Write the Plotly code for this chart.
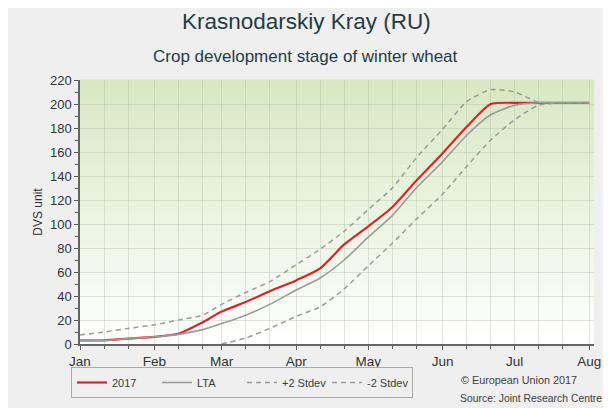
import plotly.graph_objects as go

# Dekadal dates (1st, 11th, 21st of each month), 2017
dates = ["2017-01-01", "2017-01-11", "2017-01-21",
         "2017-02-01", "2017-02-11", "2017-02-21",
         "2017-03-01", "2017-03-11", "2017-03-21",
         "2017-04-01", "2017-04-11", "2017-04-21",
         "2017-05-01", "2017-05-11", "2017-05-21",
         "2017-06-01", "2017-06-11", "2017-06-21",
         "2017-07-01", "2017-07-11", "2017-07-21",
         "2017-08-01"]

dvs_2017 = [3, 3, 4.5, 6, 8.5, 18, 27, 35, 44, 53, 63, 83, 98, 114, 136, 159, 181, 200, 201, 201, 201, 201]
dvs_lta = [3, 3, 4.5, 6, 8, 12, 17, 24, 33, 45, 55, 70, 89, 107, 130, 152, 174, 191, 199, 201, 201, 201]
dvs_plus2 = [7.5, 10, 13, 16, 20, 24, 33, 43, 52, 66, 79, 94, 112, 130, 155, 179, 202, 212, 210, 201.5, 201, 201]
dvs_minus2 = [None, None, None, None, None, None, 0, 5, 13, 23, 31, 46, 65, 84, 104, 125, 148, 170, 187, 199, 201, 201]

month_ticks = ["2017-01-01", "2017-02-01", "2017-03-01", "2017-04-01",
               "2017-05-01", "2017-06-01", "2017-07-01", "2017-08-01"]
month_labels = ["Jan", "Feb", "Mar", "Apr", "May", "Jun", "Jul", "Aug"]
y_ticks = list(range(0, 221, 20))

FONT = "Liberation Sans, Arial, sans-serif"
GRAY = "rgb(155,155,155)"
DASH = "5px,4px"

fig = go.Figure()
fig.add_trace(go.Scatter(x=dates, y=dvs_2017, name="2017", mode="lines",
                         line=dict(color="rgb(222,35,40)", width=2.2, shape="spline", smoothing=0.6)))
fig.add_trace(go.Scatter(x=dates, y=dvs_lta, name="LTA", mode="lines",
                         line=dict(color=GRAY, width=1.6, shape="spline", smoothing=0.6)))
fig.add_trace(go.Scatter(x=dates, y=dvs_plus2, name="+2 Stdev", mode="lines",
                         line=dict(color=GRAY, width=1.5, dash=DASH, shape="spline", smoothing=0.6)))
fig.add_trace(go.Scatter(x=dates, y=dvs_minus2, name="-2 Stdev", mode="lines",
                         line=dict(color=GRAY, width=1.5, dash=DASH, shape="spline", smoothing=0.6)))

# gradient background (green at top fading to white at bottom)
shapes = []
n = 40
top = (214, 232, 194)
bot = (255, 255, 255)
for i in range(n):
    f0 = i / n
    f1 = (i + 1) / n
    t = (f0 + f1) / 2
    c = tuple(int(round(bot[k] + (top[k] - bot[k]) * t)) for k in range(3))
    shapes.append(dict(type="rect", xref="x domain", yref="y domain",
                       x0=0, x1=1, y0=f0, y1=f1 + 0.002, line=dict(width=0),
                       fillcolor="rgb(%d,%d,%d)" % c, layer="below"))

minor_x = [d for d in dates if not d.endswith("-01")]

# page body has an 8px margin: figure coords = screen coords - 8
OFF = 8
W, H = 611 - OFF, 408 - OFF
L, T = 80 - OFF, 80 - OFF
PW, PH = 514, 264
R, B = W - L - PW, H - T - PH


def px(xs):
    return (xs - OFF - L) / PW


def py(ys):
    return (T + PH - (ys - OFF)) / PH


fig.update_layout(
    width=W, height=H,
    paper_bgcolor="rgb(239,239,239)",
    plot_bgcolor="white",
    margin=dict(l=L, r=R, t=T, b=B, autoexpand=False),
    font=dict(family=FONT, color="rgb(50,50,50)"),
    shapes=shapes,
    showlegend=True,
    legend=dict(orientation="h", x=px(71), xanchor="left", y=py(367), yanchor="top",
                bgcolor="rgb(239,239,239)", bordercolor="rgb(170,170,170)", borderwidth=1,
                font=dict(size=11, family=FONT, color="rgb(60,60,60)"),
                itemwidth=30, entrywidth=40, entrywidthmode="pixels",
                tracegroupgap=0),
    annotations=[
        dict(text="Krasnodarskiy Kray (RU)", xref="paper", yref="paper",
             x=px(306), y=py(21), xanchor="center", yanchor="middle",
             showarrow=False, font=dict(size=22.5, family=FONT, color="rgb(30,60,70)")),
        dict(text="Crop development stage of winter wheat", xref="paper", yref="paper",
             x=px(305), y=py(57), xanchor="center", yanchor="middle",
             showarrow=False, font=dict(size=17, family=FONT, color="rgb(30,60,70)")),
        dict(text="© European Union 2017", xref="paper", yref="paper",
             x=px(459), y=py(380), xanchor="left", yanchor="middle",
             showarrow=False, font=dict(size=10.8, family=FONT, color="rgb(60,60,60)")),
        dict(text="Source: Joint Research Centre", xref="paper", yref="paper",
             x=px(458), y=py(398), xanchor="left", yanchor="middle",
             showarrow=False, font=dict(size=10.4, family=FONT, color="rgb(60,60,60)")),
    ],
)

fig.update_xaxes(
    type="date", range=["2017-01-01", "2017-08-03"], automargin=False,
    tickmode="array", tickvals=month_ticks, ticktext=month_labels,
    ticks="outside", ticklen=4, tickcolor="rgb(90,90,90)",
    tickfont=dict(size=13.5, family=FONT, color="rgb(50,50,50)"),
    showline=True, linecolor="rgb(100,100,100)", linewidth=1.5,
    showgrid=True, gridcolor="rgba(180,190,170,0.4)", gridwidth=1,
    minor=dict(tickmode="array", tickvals=minor_x, ticks="outside", ticklen=3,
               tickcolor="rgb(90,90,90)", showgrid=True,
               gridcolor="rgba(180,190,170,0.4)", gridwidth=1),
    zeroline=False,
)
fig.update_yaxes(
    range=[0, 220], tickmode="array", tickvals=y_ticks, automargin=False,
    ticks="outside", ticklen=4, tickcolor="rgb(90,90,90)",
    tickfont=dict(size=13, family=FONT, color="rgb(50,50,50)"),
    showline=True, linecolor="rgb(100,100,100)", linewidth=1.5,
    showgrid=True, gridcolor="rgba(180,190,170,0.4)", gridwidth=1,
    minor=dict(dtick=10, ticks="outside", ticklen=3, tickcolor="rgb(90,90,90)", showgrid=False),
    zeroline=False,
    title=dict(text="DVS unit", font=dict(size=12, family=FONT, color="rgb(50,50,50)"), standoff=5),
)

fig.write_html("out.html")
